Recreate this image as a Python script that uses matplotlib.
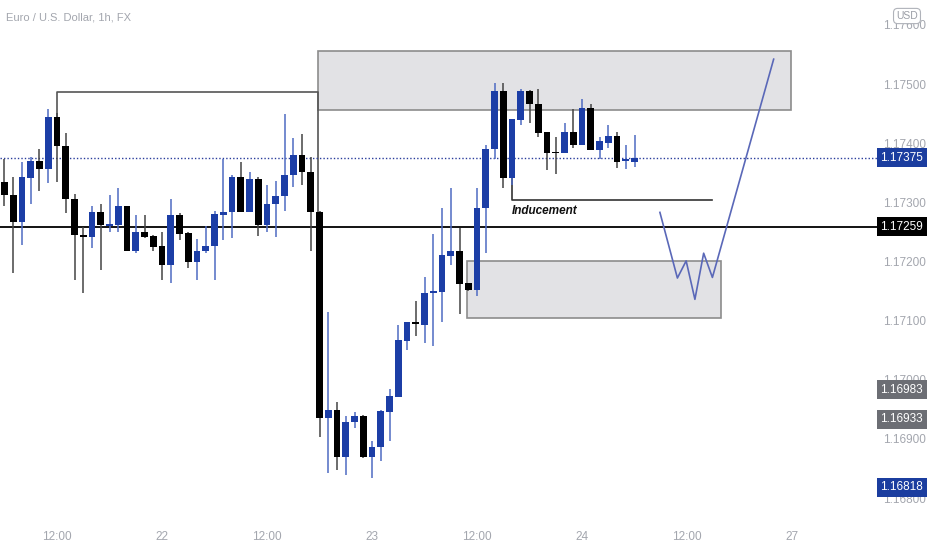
import matplotlib
matplotlib.use('Agg')
import matplotlib.pyplot as plt
import matplotlib.transforms as mtransforms
from matplotlib.patches import Rectangle
import numpy as np

# EURUSD 1h candles (bar index, 0 = 21st 12:00)
bars = list(range(-6, 67))
opens = [1.17334, 1.17312, 1.17266, 1.17341, 1.17370, 1.17356, 1.17445, 1.17396, 1.17306, 1.17245,
         1.17242, 1.17283, 1.17260, 1.17261, 1.17293, 1.17218, 1.17249, 1.17243, 1.17227, 1.17194,
         1.17279, 1.17248, 1.17199, 1.17217, 1.17226, 1.17279, 1.17284, 1.17342, 1.17284, 1.17339,
         1.17261, 1.17297, 1.17311, 1.17346, 1.17380, 1.17352, 1.17284, 1.16935, 1.16949, 1.16870,
         1.16929, 1.16939, 1.16870, 1.16887, 1.16946, 1.16971, 1.17066, 1.17097, 1.17093, 1.17146,
         1.17149, 1.17209, 1.17218, 1.17163, 1.17152, 1.17290, 1.17390, 1.17489, 1.17341, 1.17439,
         1.17489, 1.17467, 1.17419, 1.17385, 1.17383, 1.17419, 1.17397, 1.17460, 1.17389, 1.17401,
         1.17412, 1.17370, 1.17369]
highs = [1.17374, 1.17343, 1.17369, 1.17377, 1.17390, 1.17457, 1.17451, 1.17418, 1.17314, 1.17259,
         1.17293, 1.17297, 1.17312, 1.17325, 1.17294, 1.17279, 1.17279, 1.17245, 1.17250, 1.17305,
         1.17282, 1.17249, 1.17238, 1.17260, 1.17285, 1.17374, 1.17347, 1.17369, 1.17351, 1.17342,
         1.17329, 1.17336, 1.17449, 1.17408, 1.17416, 1.17376, 1.17286, 1.17114, 1.16963, 1.16938,
         1.16946, 1.16941, 1.16897, 1.16949, 1.16984, 1.17093, 1.17097, 1.17133, 1.17174, 1.17246,
         1.17290, 1.17325, 1.17256, 1.17163, 1.17324, 1.17397, 1.17501, 1.17502, 1.17441, 1.17491,
         1.17490, 1.17492, 1.17419, 1.17411, 1.17434, 1.17457, 1.17474, 1.17467, 1.17411, 1.17431,
         1.17419, 1.17397, 1.17414]
lows = [1.17293, 1.17181, 1.17228, 1.17298, 1.17319, 1.17332, 1.17335, 1.17282, 1.17169, 1.17146,
        1.17222, 1.17185, 1.17249, 1.17249, 1.17218, 1.17214, 1.17239, 1.17217, 1.17169, 1.17164,
        1.17236, 1.17189, 1.17168, 1.17215, 1.17168, 1.17236, 1.17240, 1.17283, 1.17283, 1.17243,
        1.17250, 1.17242, 1.17286, 1.17326, 1.17329, 1.17217, 1.16904, 1.16843, 1.16848, 1.16839,
        1.16918, 1.16867, 1.16834, 1.16862, 1.16896, 1.16971, 1.17051, 1.17074, 1.17063, 1.17057,
        1.17098, 1.17194, 1.17111, 1.17150, 1.17141, 1.17214, 1.17374, 1.17325, 1.17330, 1.17431,
        1.17434, 1.17411, 1.17355, 1.17348, 1.17383, 1.17391, 1.17397, 1.17389, 1.17374, 1.17391,
        1.17358, 1.17356, 1.17360]
closes = [1.17312, 1.17266, 1.17342, 1.17370, 1.17356, 1.17445, 1.17396, 1.17306, 1.17244, 1.17242,
          1.17283, 1.17261, 1.17263, 1.17293, 1.17218, 1.17249, 1.17241, 1.17225, 1.17194, 1.17279,
          1.17247, 1.17199, 1.17218, 1.17227, 1.17280, 1.17284, 1.17342, 1.17284, 1.17339, 1.17261,
          1.17297, 1.17311, 1.17347, 1.17380, 1.17352, 1.17284, 1.16935, 1.16949, 1.16870, 1.16929,
          1.16939, 1.16870, 1.16887, 1.16947, 1.16972, 1.17067, 1.17097, 1.17094, 1.17147, 1.17150,
          1.17211, 1.17218, 1.17162, 1.17152, 1.17290, 1.17390, 1.17489, 1.17341, 1.17441, 1.17489,
          1.17466, 1.17418, 1.17383, 1.17383, 1.17419, 1.17397, 1.17460, 1.17389, 1.17403, 1.17412,
          1.17369, 1.17371, 1.17375]

time_ticks = [0, 12, 24, 36, 48, 60, 72, 84]
time_labels = ['12:00', '22', '12:00', '23', '12:00', '24', '12:00', '27']
price_ticks = [1.168, 1.169, 1.170, 1.171, 1.172, 1.173, 1.174, 1.175, 1.176]

# drawings
supply_zone = (29.83, 83.9, 1.17456, 1.17555)   # x0, x1, low, high
demand_zone = (46.9, 75.9, 1.17104, 1.17200)
high_line_x = [-0.03, -0.03, 29.83, 29.83]
high_line_y = [1.17445, 1.17487, 1.17487, 1.17284]
induce_x = [51.97, 51.97, 74.8]
induce_y = [1.17341, 1.17304, 1.17304]
path_x = [68.9, 70.9, 71.9, 72.9, 73.9, 74.9, 81.9]
path_y = [1.17283, 1.17172, 1.17201, 1.17136, 1.17214, 1.17173, 1.17542]
level_line = 1.17259
last_price = 1.17375
side_labels = [(1.17375, '#1b3d9f'), (1.17259, '#000000'), (1.16983, '#6c6e74'),
               (1.16933, '#6c6e74'), (1.16818, '#1b3d9f')]

plt.rcParams['font.family'] = ['Liberation Sans', 'DejaVu Sans']

fig = plt.figure(figsize=(9.32, 5.5), dpi=100)
ax = fig.add_axes([0, 30 / 550, 877 / 932, 520 / 550])
ax.set_xlim(-6.514, 93.71)
ax.set_ylim(1.16763, 1.17642)

blue = '#1c3ea6'
o = np.array(opens); c = np.array(closes); h = np.array(highs); l = np.array(lows)
up = c >= o
body_col = np.where(up, blue, '#000000')
wick_col = np.where(up, '#4e6bc2', '#444444')
ax.vlines(bars, l, h, colors=wick_col, lw=1.1, zorder=3)
body_h = np.maximum(np.abs(c - o), 0.000025)
ax.bar(bars, body_h, bottom=np.minimum(o, c), width=0.76, color=body_col, zorder=4)

# zones
for x0, x1, lo, hi in [supply_zone, demand_zone]:
    ax.add_patch(Rectangle((x0, lo), x1 - x0, hi - lo, fc='#e2e2e5', ec='#8c8c8c', lw=1.2, zorder=1))

ax.plot(high_line_x, high_line_y, color='#555555', lw=1.2, zorder=2)
ax.plot(induce_x, induce_y, color='#333333', lw=1.2, zorder=2)
ax.text(52.0, 1.17285, 'Inducement', fontsize=8.5, fontweight='bold', fontstyle='italic',
        ha='left', va='center', color='#111111')
ax.plot(path_x, path_y, color='#5a68b8', lw=1.2, zorder=5)

ax.axhline(level_line, color='#000000', lw=1.3, zorder=2)
ax.axhline(last_price, color='#2a3d9c', lw=1, ls=(0, (1, 1.5)), zorder=2)

for s in ax.spines.values():
    s.set_visible(False)
ax.yaxis.tick_right()
ax.set_yticks(price_ticks)
ax.set_yticklabels([f'{p:.5f}' for p in price_ticks])
ax.set_xticks(time_ticks)
ax.set_xticklabels(time_labels)
ax.tick_params(axis='y', length=0, pad=4, labelsize=8.5, labelcolor='#a3a6ae')
ax.tick_params(axis='x', length=0, pad=8, labelsize=8.5, labelcolor='#a3a6ae')

# price labels on the right scale
trans = mtransforms.blended_transform_factory(ax.transAxes, ax.transData)
for price, col in side_labels:
    ax.text(1.004, price, f'{price:.5f}', transform=trans, ha='left', va='center', color='white',
            fontsize=8.5, clip_on=False, zorder=10,
            bbox=dict(boxstyle='square,pad=0.3', fc=col, ec='none'))

fig.text(6 / 932, 1 - 17 / 550, 'Euro / U.S. Dollar, 1h, FX', fontsize=8, color='#a3a6ae',
         ha='left', va='center')
fig.text(907 / 932, 1 - 16 / 550, 'USD', fontsize=7.5, color='#9a9da5', ha='center', va='center',
         zorder=20, bbox=dict(boxstyle='round,pad=0.25,rounding_size=0.4', fc='white', ec='#b0b3ba', lw=0.8))

fig.savefig('out.png', dpi=100)
